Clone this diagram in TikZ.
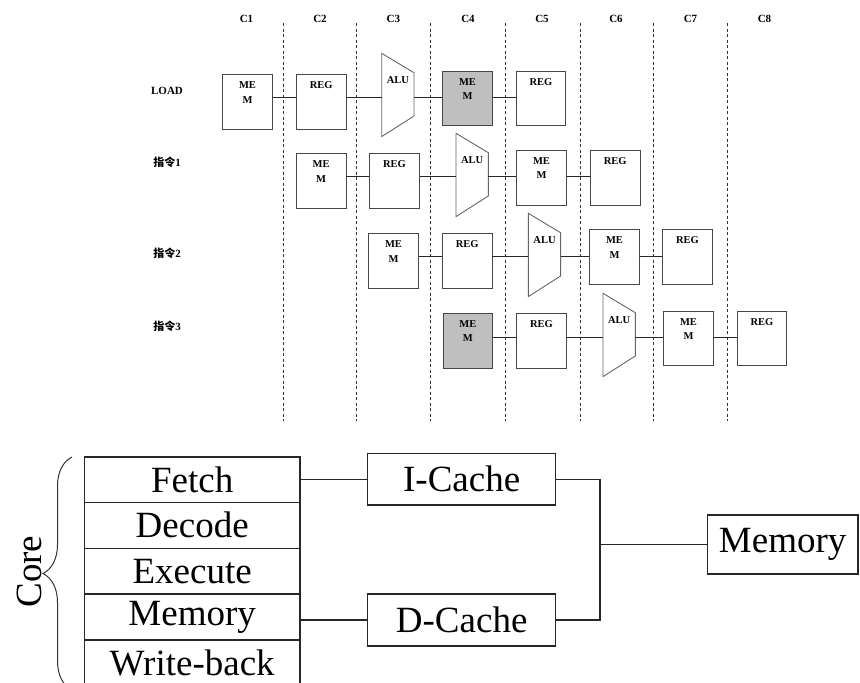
\documentclass[tikz,border=0pt]{standalone}
\usepackage{fontspec}
\setmainfont{Liberation Serif}
\newfontfamily\cjk{Noto Sans CJK SC}
\usetikzlibrary{decorations.pathreplacing,calc}

\tikzset{
  stagebox/.style={draw=black!72, line width=0.9pt, minimum width=49.5pt,
    minimum height=54.5pt, inner sep=0pt, anchor=north west},
  stagetext/.style={inner sep=0pt, anchor=north, align=center,
    font=\bfseries\fontsize{10.5}{14.4}\selectfont},
  alushape/.style={draw=black!60, line width=0.9pt, fill=white},
  link/.style={draw=black!85, line width=0.8pt},
  cycleline/.style={draw=black!80, line width=0.8pt, dash pattern=on 3pt off 2.5pt},
  headtext/.style={inner sep=0pt, anchor=base, font=\bfseries\fontsize{11}{13}\selectfont},
  unit/.style={draw=black!85, line width=1.3pt, inner sep=0pt,
    font=\fontsize{37}{40}\selectfont},
  wire/.style={draw=black!85, line width=1.3pt},
}

% pipeline stage box: name, left, top, text, fill
\newcommand\stagebx[5]{%
  \node[stagebox, fill=#5] (#1) at (#2,#3) {};
  \node[stagetext] (#1-t) at ([yshift=-7.5pt]#1.north) {#4};
}
% ALU trapezoid: name, left, top
\newcommand\alubx[3]{%
  \draw[alushape] (#2,#3) -- ++(32.3,19.4) -- ++(0,43.3) -- ++(-32.3,20.6) -- cycle;
  \coordinate (#1-w) at (#2,#3+41.7);
  \coordinate (#1-e) at (#2+32.3,#3+41.7);
  \node[stagetext] (#1-t) at (#2+16.2,#3+22.7) {ALU};
}

\begin{document}
\begin{tikzpicture}[x=1pt,y=-1pt]
\useasboundingbox (0,0) rectangle (860,683);
\clip (0,0) rectangle (860,683);

% clock cycle boundaries
\foreach \x in {283.3,356.7,430,505.7,580,653.3,727.7}
  \draw[cycleline] (\x,23) -- (\x,421);

% cycle headers
\foreach \x/\c in {246.5/C1,320/C2,393.3/C3,468/C4,542/C5,616/C6,690.5/C7,764.5/C8}
  \node[headtext] (h\c) at (\x,22.3) {\c};

% instruction labels
\node[headtext] (lload) at (167,94) {LOAD};
\node[headtext] (lin1) at (167,166) {{\cjk\bfseries 指令}1};
\node[headtext] (lin2) at (167,257.7) {{\cjk\bfseries 指令}2};
\node[headtext] (lin3) at (167,330) {{\cjk\bfseries 指令}3};

% row heights of the stage links
\coordinate (r0) at (0,97);
\coordinate (r1) at (0,176.5);
\coordinate (r2) at (0,256);
\coordinate (r3) at (0,337);

% LOAD
\stagebx{a1}{222.3}{74.3}{ME\\M}{white}
\stagebx{a2}{296}{74.3}{REG}{white}
\alubx{a3}{381.7}{53.3}
\stagebx{a4}{442.3}{70.7}{ME\\M}{black!25}
\stagebx{a5}{515.7}{70.7}{REG}{white}
\draw[link] (a1.east |- r0) -- (a2.west |- r0);
\draw[link] (a2.east |- r0) -- (a3-w |- r0);
\draw[link] (a3-e |- r0) -- (a4.west |- r0);
\draw[link] (a4.east |- r0) -- (a5.west |- r0);

% instruction 1
\stagebx{b1}{296}{153.3}{ME\\M}{white}
\stagebx{b2}{369.3}{153.3}{REG}{white}
\alubx{b3}{456}{133.3}
\stagebx{b4}{516.3}{150}{ME\\M}{white}
\stagebx{b5}{590}{150}{REG}{white}
\draw[link] (b1.east |- r1) -- (b2.west |- r1);
\draw[link] (b2.east |- r1) -- (b3-w |- r1);
\draw[link] (b3-e |- r1) -- (b4.west |- r1);
\draw[link] (b4.east |- r1) -- (b5.west |- r1);

% instruction 2
\stagebx{c1}{368.3}{233.3}{ME\\M}{white}
\stagebx{c2}{442}{233.3}{REG}{white}
\alubx{c3}{528.3}{213.3}
\stagebx{c4}{589.3}{229.3}{ME\\M}{white}
\stagebx{c5}{662.3}{229.3}{REG}{white}
\draw[link] (c1.east |- r2) -- (c2.west |- r2);
\draw[link] (c2.east |- r2) -- (c3-w |- r2);
\draw[link] (c3-e |- r2) -- (c4.west |- r2);
\draw[link] (c4.east |- r2) -- (c5.west |- r2);

% instruction 3
\stagebx{d1}{442.7}{313}{ME\\M}{black!25}
\stagebx{d2}{516.3}{313.3}{REG}{white}
\alubx{d3}{603}{293.3}
\stagebx{d4}{663.3}{310.7}{ME\\M}{white}
\stagebx{d5}{736.7}{310.7}{REG}{white}
\draw[link] (d1.east |- r3) -- (d2.west |- r3);
\draw[link] (d2.east |- r3) -- (d3-w |- r3);
\draw[link] (d3-e |- r3) -- (d4.west |- r3);
\draw[link] (d4.east |- r3) -- (d5.west |- r3);

% core pipeline stages
\foreach \n/\t/\y in {fetch/Fetch/479.8, decode/Decode/525.3, execute/Execute/571.2,
                      memst/Memory/617, wb/Write-back/663}
  \node[unit, minimum width=215.7pt, minimum height=45.8pt] (\n) at (192.2,\y) {\t};

% caches and main memory
\node[unit, minimum width=188pt, minimum height=51.7pt] (icache) at (461.7,479.2) {I-Cache};
\node[unit, minimum width=188pt, minimum height=52pt] (dcache) at (461.7,620) {D-Cache};
\node[unit, minimum width=150.7pt, minimum height=59pt] (mainmem) at (782.7,544.5) {Memory};

\coordinate (jn) at (600,544.3);
\draw[wire] (fetch.east) -- (fetch.east -| icache.west);
\draw[wire] (dcache.west -| memst.east) -- (dcache.west);
\draw[wire] (icache.east) -| (jn |- dcache.east) -- (dcache.east);
\draw[wire] (jn) -- (jn -| mainmem.west);

% core brace and label
\draw[line width=1pt, black!80, decorate, decoration={brace, amplitude=29pt}]
  (72,690) -- (72,457);
\node[rotate=90, anchor=base, inner sep=0pt, font=\fontsize{37}{40}\selectfont]
  (core) at (41.7,571.7) {Core};
\end{tikzpicture}
\end{document}
